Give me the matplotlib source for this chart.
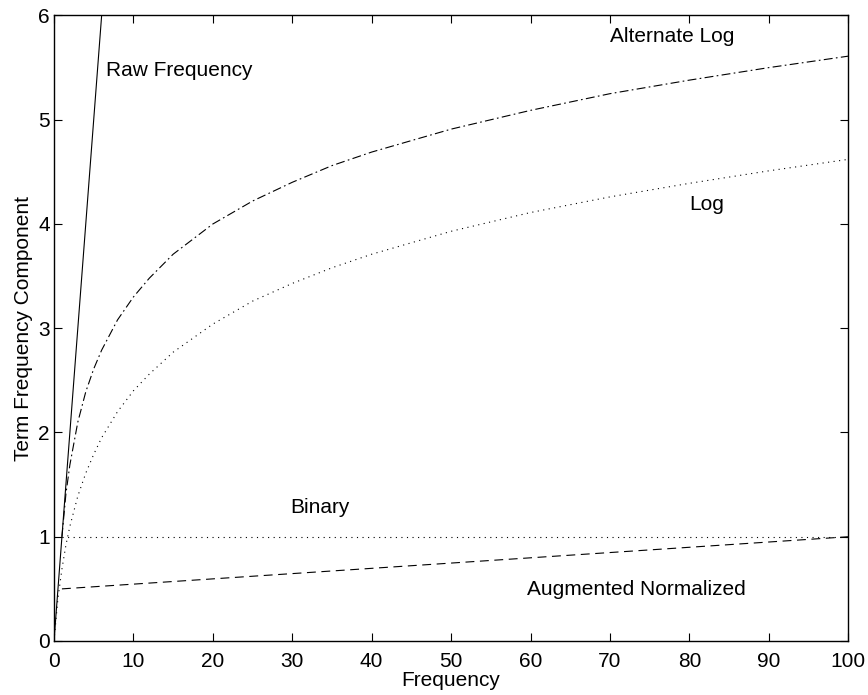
import matplotlib
matplotlib.use("Agg")
import matplotlib.pyplot as plt

plt.rcParams['font.family'] = ['Liberation Sans', 'DejaVu Sans']

# values
freq = [0, 0.5, 1, 1.5, 2, 3, 4, 5, 6, 8, 10, 12, 15, 20, 25, 30, 35, 40, 50, 60, 70, 80, 90, 100]
log_tf = [0.0, 0.41, 0.69, 0.92, 1.10, 1.39, 1.61, 1.79, 1.95, 2.20, 2.40, 2.56, 2.77, 3.04, 3.26,
          3.43, 3.58, 3.71, 3.93, 4.11, 4.26, 4.39, 4.51, 4.62]
alt_freq = [1, 1.5, 2, 3, 4, 5, 6, 8, 10, 12, 15, 20, 25, 30, 35, 40, 50, 60, 70, 80, 90, 100]
alt_log_tf = [1.0, 1.41, 1.69, 2.10, 2.39, 2.61, 2.79, 3.08, 3.30, 3.48, 3.71, 4.00, 4.22,
              4.40, 4.56, 4.69, 4.91, 5.09, 5.25, 5.38, 5.50, 5.61]
raw_freq = [0, 6]
raw_tf = [0, 6]
bin_freq = [1, 100]
bin_tf = [1, 1]
aug_freq = [1, 100]
aug_tf = [0.5, 1.0]

labels = ["Raw Frequency", "Alternate Log", "Log", "Binary", "Augmented Normalized"]
label_x = [6.6, 70.0, 80.0, 29.8, 59.6]
label_y = [5.47, 5.8, 4.19, 1.28, 0.49]

fig = plt.figure(figsize=(8.68, 6.95), dpi=100)
ax = fig.add_axes([0.0622, 0.0777, 0.915, 0.9])

ax.plot(raw_freq, raw_tf, color='black', lw=0.8, ls='-')
ax.plot(alt_freq, alt_log_tf, color='black', lw=0.8, ls=(0, (8, 3, 1.5, 3)))
ax.plot(freq, log_tf, color='black', lw=0.8, ls=(0, (1, 4)))
ax.plot(bin_freq, bin_tf, color='black', lw=0.8, ls=(0, (1, 4)))
ax.plot(aug_freq, aug_tf, color='black', lw=0.8, ls=(0, (8, 5)))

for txt, tx, ty in zip(labels, label_x, label_y):
    ax.text(tx, ty, txt, fontsize=15, va='center', ha='left')

ax.set_xlim(0, 100)
ax.set_ylim(0, 6)
ax.set_xticks(range(0, 101, 10))
ax.set_yticks(range(0, 7))
ax.tick_params(direction='in', top=True, right=True, labelsize=15, length=6, width=0.8, pad=3)
ax.tick_params(axis='x', pad=8)
for sp in ax.spines.values():
    sp.set_linewidth(1.0)
ax.set_xlabel("Frequency", fontsize=15, labelpad=0)
ax.set_ylabel("Term Frequency Component", fontsize=15, labelpad=4)

fig.savefig("out.png", dpi=100)
